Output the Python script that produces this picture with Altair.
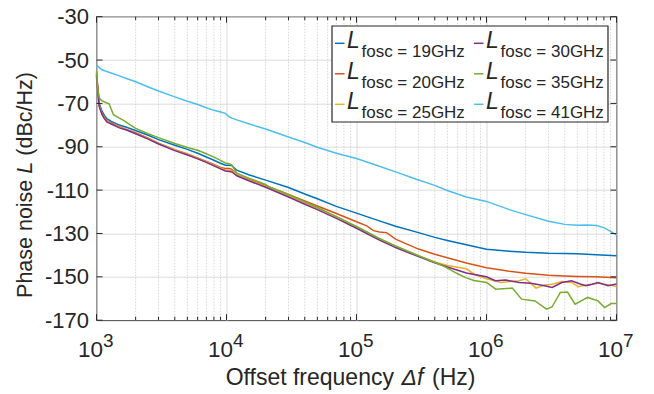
import altair as alt
import pandas as pd

FONT = "Liberation Sans"
INK = "#262626"
W, H = 520, 303.5

series_names = ["19GHz", "20GHz", "25GHz", "30GHz", "35GHz", "41GHz"]
colors = ["#0072BD", "#D95319", "#EDB120", "#7E2F8E", "#77AC30", "#4DBEEE"]

# shared low/mid frequency grid (Hz)
f_mid = [1000, 1050, 1100, 1150, 1200, 1300, 1500, 1700, 2000, 2500, 3000, 4000, 5000,
         6000, 7000, 8000, 9000, 9800, 10500, 11000, 12000, 15000, 20000, 30000, 40000,
         50000, 70000, 100000]

# 19 GHz
f_19 = f_mid + [150000, 200000, 300000, 400000, 500000, 700000, 1e6, 1.5e6, 2e6, 3e6, 4e6, 5e6, 7e6, 1e7]
L_19 = [-56, -70, -73.5, -75.5, -77, -78.3, -80, -81, -82.5, -84.7, -86.7, -89.3, -91.2,
        -93, -94.7, -96.2, -97.6, -98.5, -98.5, -98.7, -100.8, -103, -105.4, -108.8, -111.8,
        -114, -117.5, -120.6,
        -124.2, -126.7, -129.6, -131.8, -133.2, -135.2, -137.3, -138.2, -138.7, -139.1, -139.2, -139.4, -139.8, -140.3]

# 20 GHz
f_20 = f_mid + [120000, 135000, 150000, 170000, 200000, 300000, 400000, 500000, 700000, 1e6,
                1.5e6, 2e6, 3e6, 4e6, 5e6, 7e6, 1e7]
L_20 = [-58, -71, -74.5, -76.5, -78, -79, -80.8, -82, -83.5, -86, -88.3, -91.3, -93.3,
        -95.2, -96.8, -98.2, -99.5, -100, -100, -100.4, -103, -105.2, -107.8, -112, -115,
        -117.3, -120.8, -124.6,
        -126.5, -128.7, -129.3, -129.6, -132.6, -137.2, -139.6, -141.2, -143.6, -145.8,
        -147.4, -148.3, -149.3, -149.6, -149.8, -150.0, -150.4]

# 25 GHz
f_25 = f_mid + [150000, 200000, 300000, 400000, 500000, 600000, 700000, 800000, 1e6,
                1.3e6, 1.78e6, 2e6, 2.4e6, 2.8e6, 3.2e6, 3.8e6, 4.5e6, 5.1e6, 5.8e6, 6.5e6, 7.3e6,
                8.1e6, 9.5e6, 1e7]
L_25 = [-57, -71, -74.8, -76.8, -78.2, -79.3, -81, -82.1, -83.8, -86.3, -88.5, -91.5, -93.5,
        -95.4, -97, -98.5, -99.9, -100.7, -100.8, -101, -103, -105.5, -108.3, -112.6, -115.9,
        -118.4, -122.3, -127,
        -132.5, -136, -140.3, -143.1, -144.8, -145.6, -146.3, -148.8, -150.9,
        -152.6, -151.8, -150.9, -155.2, -153.8, -153.4, -152.2, -152.6, -154.6, -153.8, -153.4, -152.9,
        -153.4, -154.1, -154.6]

# 30 GHz
f_30 = f_mid + [150000, 200000, 300000, 400000, 500000, 700000, 1e6,
                1.17e6, 1.4e6, 1.78e6, 2.2e6, 2.8e6, 3.2e6, 3.8e6, 4.5e6, 5.2e6, 5.8e6, 6.5e6,
                7.2e6, 8.6e6, 1e7]
L_30 = [-57, -71.5, -75, -77, -78.5, -79.5, -81.3, -82.3, -84, -86.5, -88.7, -91.8, -93.8,
        -95.6, -97.2, -98.8, -100.2, -101.2, -101.4, -101.6, -103.4, -105.8, -108.7, -113.2,
        -116.5, -119, -123, -127.6,
        -133, -136.5, -140.7, -143.5, -145.5, -148.2, -150,
        -151.8, -151.5, -152.6, -153, -154.1, -154.9, -152.6, -151.8, -153.2, -154.1, -153.4,
        -152.6, -154.1, -153.3]

# 35 GHz
f_35 = [1000, 1020, 1050, 1100, 1200, 1250, 1350, 1500, 1600, 2000, 2500, 3000, 4000, 5000,
        6000, 7000, 8000, 9000, 9800, 10500, 11000, 12000, 15000, 20000, 21000, 30000, 40000,
        50000, 70000, 100000, 150000, 200000, 300000, 400000, 460000, 500000, 600000, 700000,
        800000, 1e6, 1.18e6, 1.58e6, 1.86e6, 2.36e6, 2.9e6, 3.2e6, 3.7e6, 4.2e6, 4.8e6, 6e6,
        7.2e6, 8.1e6, 9.1e6, 1e7]
L_35 = [-55, -63, -67.5, -68.8, -69.8, -70.2, -75.2, -76.8, -77.7, -81.5, -84, -85.8, -88.5,
        -90.3, -91.6, -93.2, -94.8, -96.3, -97.5, -97.8, -98.4, -102.2, -104.6, -107.4, -108.4,
        -112, -115.4, -118, -122.2, -126.8, -132.3, -135.8, -140.3, -143.3, -144.8, -146,
        -148.6, -150.5, -151.7, -152.6, -155.7, -155.2, -160.3, -161.1, -164.9, -163.8, -157.2,
        -157, -162.6, -159.5, -161.1, -164.2, -162.3, -162.3]

# 41 GHz
f_41 = [1000, 1050, 1100, 1200, 1500, 1700, 2000, 2500, 3000, 4000, 5000, 6000, 7000, 8000,
        9000, 9800, 10500, 11000, 12000, 15000, 20000, 30000, 40000, 50000, 70000, 100000,
        150000, 200000, 300000, 400000, 500000, 700000, 1e6, 1.5e6, 2e6, 3e6, 4e6, 5e6, 6e6,
        7e6, 8e6, 9e6, 1e7]
L_41 = [-52.3, -53.5, -54.5, -55.3, -57.3, -58.5, -60, -62.4, -64.3, -67, -69, -70.5, -72,
        -73.2, -74, -74.6, -76.2, -76.8, -77.6, -79.5, -81.8, -85.5, -88, -90.2, -93, -95.4,
        -99, -101.6, -105.3, -107.8, -110.2, -113.2, -115.2, -119, -121.3, -124.4, -125.8,
        -126.2, -126.1, -126.3, -127.3, -129, -130.8]

series_f = [f_19, f_20, f_25, f_30, f_35, f_41]
series_L = [L_19, L_20, L_25, L_30, L_35, L_41]

x_major = [1e3, 1e4, 1e5, 1e6, 1e7]
x_exp = ["3", "4", "5", "6", "7"]
x_minor = [m * d for d in [1e3, 1e4, 1e5, 1e6] for m in range(2, 10)]
y_major = [-170, -150, -130, -110, -90, -70, -50, -30]

xs = alt.Scale(type="log", domain=[1e3, 1e7], nice=False)
ys = alt.Scale(domain=[-170, -30], nice=False, zero=False)
xaxis = alt.Axis(values=x_major, labels=False, ticks=False, domain=False, grid=True,
                 gridColor="#dcdcdc", gridWidth=1, title=None)
yaxis = alt.Axis(values=y_major, ticks=False, domain=False, grid=True, gridColor="#dcdcdc",
                 gridWidth=1, title=None, labelFont=FONT, labelFontSize=22, labelColor=INK,
                 labelPadding=8, labelExpr="'' + datum.value")

one = pd.DataFrame({"a": [0]})
layers = []

# minor grid
layers.append(alt.Chart(pd.DataFrame({"f": x_minor})).mark_rule(
    color="#cdcdcd", strokeWidth=0.8, strokeDash=[1.5, 1.5]).encode(
    x=alt.X("f:Q", scale=xs, axis=xaxis)))

# series lines
for name, c, fl, ll in zip(series_names, colors, series_f, series_L):
    df = pd.DataFrame({"f": fl, "L": ll})
    layers.append(alt.Chart(df).mark_line(color=c, strokeWidth=1.5).encode(
        x=alt.X("f:Q", scale=xs, axis=xaxis),
        y=alt.Y("L:Q", scale=ys, axis=yaxis)))

# inward ticks
dmaj = pd.DataFrame({"f": x_major})
dmin = pd.DataFrame({"f": x_minor})
dy = pd.DataFrame({"v": y_major})
for d, ln in [(dmaj, 6), (dmin, 3.5)]:
    layers.append(alt.Chart(d).mark_rule(color=INK, strokeWidth=1).encode(
        x=alt.X("f:Q", scale=xs, axis=xaxis), y=alt.value(H), y2=alt.value(H - ln)))
    layers.append(alt.Chart(d).mark_rule(color=INK, strokeWidth=1).encode(
        x=alt.X("f:Q", scale=xs, axis=xaxis), y=alt.value(0), y2=alt.value(ln)))
layers.append(alt.Chart(dy).mark_rule(color=INK, strokeWidth=1).encode(
    y=alt.Y("v:Q", scale=ys, axis=yaxis), x=alt.value(0), x2=alt.value(6)))
layers.append(alt.Chart(dy).mark_rule(color=INK, strokeWidth=1).encode(
    y=alt.Y("v:Q", scale=ys, axis=yaxis), x=alt.value(W), x2=alt.value(W - 6)))

# x tick labels 10^n
dlab = pd.DataFrame({"f": x_major, "b": ["10"] * 5, "e": x_exp})
layers.append(alt.Chart(dlab).mark_text(font=FONT, fontSize=22.5, color=INK, align="right",
                                        baseline="alphabetic", dx=6.5).encode(
    x=alt.X("f:Q", scale=xs, axis=xaxis), y=alt.value(H + 37), text="b:N"))
layers.append(alt.Chart(dlab).mark_text(font=FONT, fontSize=19, color=INK, align="left",
                                        baseline="alphabetic", dx=6.5).encode(
    x=alt.X("f:Q", scale=xs, axis=xaxis), y=alt.value(H + 27), text="e:N"))

# x title
xt = [("Offset frequency", "normal", 129.2), ("Δf", "italic", 305.0), ("(Hz)", "normal", 335.5)]
for txt, st, xx in xt:
    layers.append(alt.Chart(one).mark_text(text=txt, font=FONT, fontSize=23, fontStyle=st,
                                           color=INK, align="left", baseline="alphabetic").encode(
        x=alt.value(xx), y=alt.value(H + 64.5)))

# y title (rotated)
yt = [("Phase noise", "normal", "right", 163.0), ("L", "italic", "left", 157.0),
      ("(dBc/Hz)", "normal", "left", 139.0)]
for txt, st, al, yy in yt:
    layers.append(alt.Chart(one).mark_text(text=txt, font=FONT, fontSize=21.5, fontStyle=st,
                                           color=INK, align=al, baseline="alphabetic",
                                           angle=270).encode(
        x=alt.value(-64.5), y=alt.value(yy)))

# legend box
layers.append(alt.Chart(one).mark_rect(fill="white", stroke=INK, strokeWidth=1.2).encode(
    x=alt.value(235.5), x2=alt.value(511.5), y=alt.value(9.3), y2=alt.value(105.3)))

col_x = [238.5, 377.5]
leg = pd.DataFrame({
    "name": series_names,
    "color": colors,
    "sub": ["fosc = " + n for n in series_names],
    "dx0": [col_x[i // 3] for i in range(6)],
    "dx1": [col_x[i // 3] + 9.5 for i in range(6)],
    "lx": [col_x[i // 3] + 12 for i in range(6)],
    "sx": [col_x[i // 3] + 26.5 for i in range(6)],
    "dy": [26.6 + 30.5 * (i % 3) for i in range(6)],
    "ly": [31.6 + 30.5 * (i % 3) for i in range(6)],
    "sy": [40.6 + 30.5 * (i % 3) for i in range(6)],
})
layers.append(alt.Chart(leg).mark_rule(strokeWidth=1.5).encode(
    x=alt.X("dx0:Q", scale=None), x2="dx1:Q", y=alt.Y("dy:Q", scale=None),
    color=alt.Color("color:N", scale=None)))
layers.append(alt.Chart(leg).mark_text(text="L", font=FONT, fontSize=23, fontStyle="italic",
                                       color=INK, align="left", baseline="alphabetic").encode(
    x=alt.X("lx:Q", scale=None), y=alt.Y("ly:Q", scale=None)))
layers.append(alt.Chart(leg).mark_text(font=FONT, fontSize=17, color=INK, align="left",
                                       baseline="alphabetic").encode(
    x=alt.X("sx:Q", scale=None), y=alt.Y("sy:Q", scale=None), text="sub:N"))

chart = alt.layer(*layers).properties(
    width=W, height=H,
    autosize=alt.AutoSizeParams(type="none"),
    padding={"left": 88.5, "top": 8.7, "right": 20, "bottom": 70},
    background="white",
).configure_view(stroke=INK, strokeWidth=1.2)

chart.save("out.html", embed_options={"renderer": "svg", "actions": False})
